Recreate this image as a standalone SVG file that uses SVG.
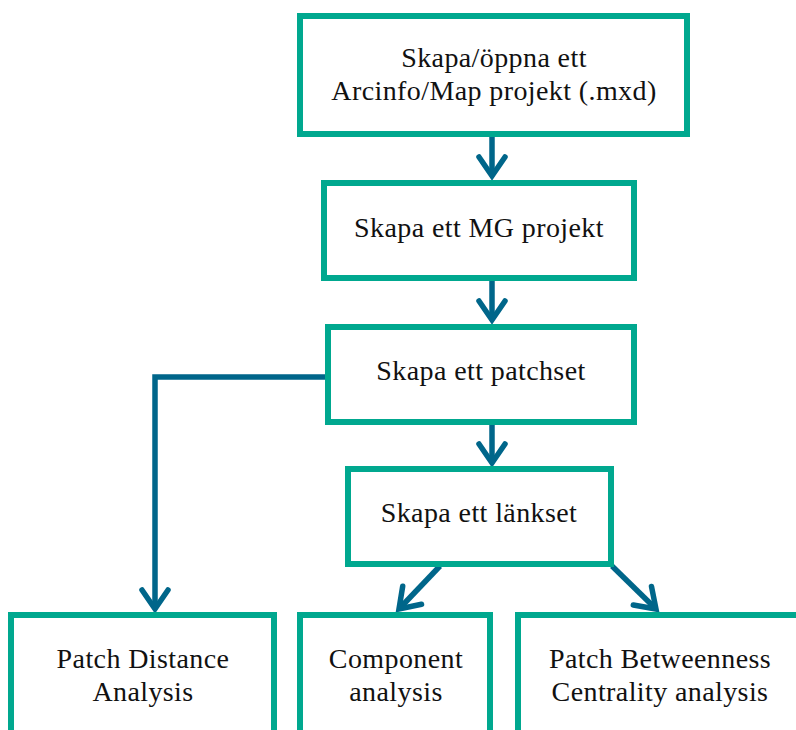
<svg xmlns="http://www.w3.org/2000/svg" width="796" height="730" viewBox="0 0 796 730">
<defs>
<style>
.box{fill:#fff;stroke:#00A88F;stroke-width:6}
.lbl{font-family:"Liberation Serif","Times New Roman",serif;font-size:28px;letter-spacing:0.4px;fill:#111;text-anchor:middle}
.con{fill:none;stroke:#00668A;stroke-width:5.5;marker-end:url(#ah)}
</style>
<marker id="ah" markerUnits="userSpaceOnUse" viewBox="-24 -16 28 32" refX="0" refY="0" markerWidth="28" markerHeight="32" orient="auto" overflow="visible">
<path d="M-19,-13 L0,0 L-19,13" fill="none" stroke="#00668A" stroke-width="5.5" stroke-linecap="round" stroke-linejoin="miter"/>
</marker>
</defs>
<g id="connectors">
<path class="con" d="M492,137 V176"/>
<path class="con" d="M492,281 V320"/>
<path class="con" d="M492,425 V463"/>
<path class="con" d="M325,377 H155 V609"/>
<path class="con" d="M440,566 L399,609"/>
<path class="con" d="M612,566 L656,609"/>
</g>
<g id="n1"><rect class="box" x="300" y="16" width="387" height="118"/>
<text class="lbl" x="494" y="67">Skapa/öppna ett</text>
<text class="lbl" x="494" y="100">Arcinfo/Map projekt (.mxd)</text></g>
<g id="n2"><rect class="box" x="324" y="183" width="310" height="95"/>
<text class="lbl" x="479" y="237">Skapa ett MG projekt</text></g>
<g id="n3"><rect class="box" x="328" y="327" width="306" height="95"/>
<text class="lbl" x="481" y="380">Skapa ett patchset</text></g>
<g id="n4"><rect class="box" x="348" y="469" width="263" height="95"/>
<text class="lbl" x="479" y="522">Skapa ett länkset</text></g>
<g id="n5"><rect class="box" x="11" y="615" width="263" height="130"/>
<text class="lbl" x="143" y="668">Patch Distance</text>
<text class="lbl" x="143" y="701">Analysis</text></g>
<g id="n6"><rect class="box" x="300" y="615" width="190" height="130"/>
<text class="lbl" x="396" y="668">Component</text>
<text class="lbl" x="396" y="701">analysis</text></g>
<g id="n7"><rect class="box" x="518" y="615" width="300" height="130"/>
<text class="lbl" x="660" y="668">Patch Betweenness</text>
<text class="lbl" x="660" y="701">Centrality analysis</text></g>
</svg>
